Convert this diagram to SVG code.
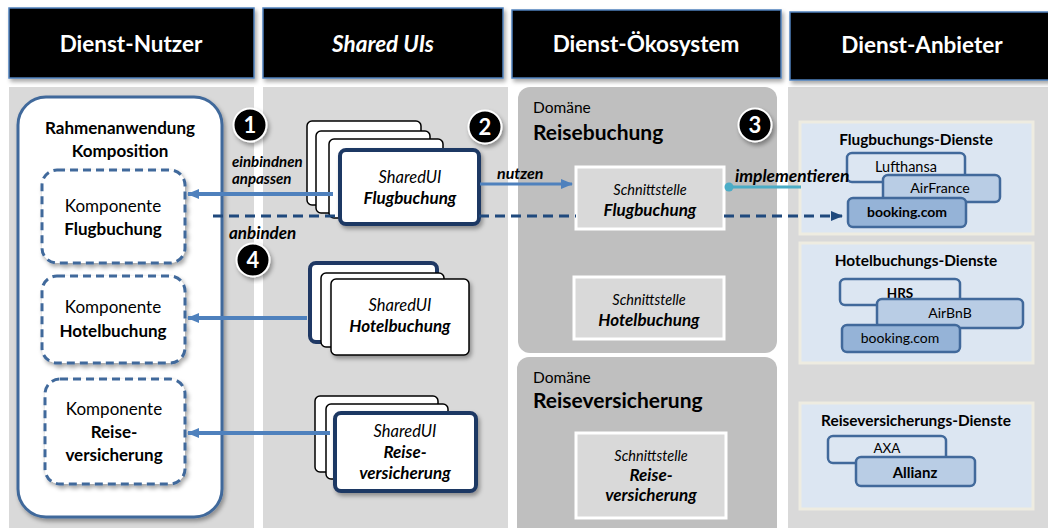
<svg xmlns="http://www.w3.org/2000/svg" width="1048" height="528" viewBox="0 0 1048 528">
<defs>
<filter id="sh" x="-20%" y="-20%" width="140%" height="140%">
<feDropShadow dx="2" dy="3" stdDeviation="2" flood-color="#000" flood-opacity="0.35"/>
</filter>
<marker id="ahBlue" viewBox="0 0 12 10" refX="11" refY="5" markerWidth="12" markerHeight="10" markerUnits="userSpaceOnUse" orient="auto">
<path d="M0,0 L12,5 L0,10 Z" fill="#4f81bd"/>
</marker>
<marker id="ahDark" viewBox="0 0 12 10" refX="11" refY="5" markerWidth="12" markerHeight="10" markerUnits="userSpaceOnUse" orient="auto">
<path d="M0,0 L12,5 L0,10 Z" fill="#1f497d"/>
</marker>
</defs>
<style>
text{font-family:Lato,"Liberation Sans",sans-serif;fill:#000}
.hdr{fill:#000;stroke:#4f81bd;stroke-width:1.5}
.hdrt{fill:#fff;font-size:22.5px;font-weight:bold;text-anchor:middle}
.col{fill:#d9d9d9}
.dom{fill:#bfbfbf}
.komp{fill:#fff;stroke:#41699b;stroke-width:3;stroke-dasharray:8 5}
.card{fill:#fff;stroke:#000;stroke-width:1.5}
.front{fill:#fff;stroke:#1f3864;stroke-width:4}
.sst{fill:#d9d9d9;stroke:#fff;stroke-width:3}
.panel{fill:#dce6f2;stroke:#eeece1;stroke-width:3}
.svc{stroke:#41699b;stroke-width:2.5}
.c{text-anchor:middle}
.b{font-weight:bold}
.i{font-style:italic}
.num{fill:#000;stroke:#fff;stroke-width:2}
.numt{fill:#fff;font-size:22px;font-weight:bold;text-anchor:middle}
.lbl{font-weight:bold;font-style:italic}
.sui{font-size:16.5px;font-style:italic}
.suib{font-size:17px;font-style:italic;font-weight:bold}
.sn{font-size:14.5px;font-style:italic}
.snb{font-size:17px;font-style:italic;font-weight:bold}
.ptitle{font-size:15.4px;font-weight:bold;text-anchor:middle}
</style>
<rect width="1048" height="528" fill="#fff"/>

<g id="backgrounds">
<rect class="col" x="9" y="87" width="245" height="441"/>
<rect class="col" x="263" y="87" width="245" height="441"/>
<rect class="col" x="788" y="87" width="260" height="441"/>
</g>

<g id="headers">
<g id="hdr-nutzer"><rect class="hdr" x="9" y="8" width="245" height="70" filter="url(#sh)"/><text class="hdrt" x="131" y="52">Dienst-Nutzer</text></g>
<g id="hdr-shared"><rect class="hdr" x="263" y="8" width="240" height="70" filter="url(#sh)"/><text class="hdrt i" x="383" y="52">Shared UIs</text></g>
<g id="hdr-oeko"><rect class="hdr" x="512" y="10" width="269" height="68" filter="url(#sh)"/><text class="hdrt" x="646" y="52">Dienst-Ökosystem</text></g>
<g id="hdr-anbieter"><rect class="hdr" x="790" y="12" width="262" height="68" filter="url(#sh)"/><text class="hdrt" x="922" y="53">Dienst-Anbieter</text></g>
</g>

<g id="rahmen">
<rect x="18" y="97" width="204" height="420" rx="28" fill="#fff" stroke="#41699b" stroke-width="3" filter="url(#sh)"/>
<text class="c b" x="120" y="134" font-size="17">Rahmenanwendung</text>
<text class="c b" x="120" y="157" font-size="17">Komposition</text>
</g>

<g id="komp-flug">
<rect class="komp" x="42" y="170" width="143" height="93" rx="15" filter="url(#sh)"/>
<text class="c" x="113" y="212" font-size="17">Komponente</text>
<text class="c b" x="113" y="235" font-size="17">Flugbuchung</text>
</g>
<g id="komp-hotel">
<rect class="komp" x="42" y="276" width="143" height="87" rx="15" filter="url(#sh)"/>
<text class="c" x="113" y="313" font-size="17">Komponente</text>
<text class="c b" x="113" y="337" font-size="17">Hotelbuchung</text>
</g>
<g id="komp-reise">
<rect class="komp" x="45" y="379" width="140" height="105" rx="15" filter="url(#sh)"/>
<text class="c" x="114" y="415" font-size="17">Komponente</text>
<text class="c b" x="114" y="438" font-size="17">Reise-</text>
<text class="c b" x="114" y="461" font-size="17">versicherung</text>
</g>

<g id="shared-flug">
<rect class="card" x="307" y="121" width="114" height="84" rx="5"/>
<rect class="card" x="316" y="131" width="114" height="82" rx="5"/>
<rect class="card" x="329" y="139" width="114" height="79" rx="5"/>
<rect class="front" x="340" y="150" width="139" height="74" rx="6" filter="url(#sh)"/>
<text class="c sui" x="410" y="183">SharedUI</text>
<text class="c suib" x="410" y="204">Flugbuchung</text>
</g>
<g id="shared-hotel">
<rect class="front" x="310" y="263" width="127" height="79" rx="6"/>
<rect class="card" x="321" y="273" width="123" height="74" rx="5"/>
<rect class="card" x="331" y="279" width="138" height="76" rx="5" filter="url(#sh)"/>
<text class="c sui" x="400" y="311">SharedUI</text>
<text class="c suib" x="400" y="332">Hotelbuchung</text>
</g>
<g id="shared-reise">
<rect class="card" x="315" y="396" width="123" height="76" rx="5"/>
<rect class="card" x="326" y="404" width="122" height="75" rx="5"/>
<rect class="front" x="335" y="413" width="141" height="78" rx="6" filter="url(#sh)"/>
<text class="c sui" x="405" y="437">SharedUI</text>
<text class="c suib" x="405" y="458">Reise-</text>
<text class="c suib" x="405" y="479">versicherung</text>
</g>

<g id="dom-reisebuchung">
<rect class="dom" x="518" y="87" width="259" height="266" rx="12"/>
<text x="533" y="113" font-size="15.5">Domäne</text>
<text class="b" x="533" y="140" font-size="21">Reisebuchung</text>
</g>
<g id="sst-flug">
<rect class="sst" x="576" y="167" width="148" height="62"/>
<text class="c sn" x="650" y="195">Schnittstelle</text>
<text class="c snb" x="650" y="216">Flugbuchung</text>
</g>
<g id="sst-hotel">
<rect class="sst" x="574" y="277" width="150" height="62"/>
<text class="c sn" x="649" y="305">Schnittstelle</text>
<text class="c snb" x="649" y="326">Hotelbuchung</text>
</g>
<g id="dom-reiseversicherung">
<rect class="dom" x="517" y="357" width="260" height="185" rx="12"/>
<text x="533" y="383" font-size="15.5">Domäne</text>
<text class="b" x="533" y="408" font-size="21">Reiseversicherung</text>
</g>
<g id="sst-reise">
<rect class="sst" x="576" y="433" width="150" height="85"/>
<text class="c sn" x="651" y="461">Schnittstelle</text>
<text class="c snb" x="651" y="481">Reise-</text>
<text class="c snb" x="651" y="501">versicherung</text>
</g>

<g id="flug-dienste">
<rect class="panel" x="800" y="122" width="233" height="112"/>
<text class="ptitle" x="916" y="145">Flugbuchungs-Dienste</text>
<rect class="svc" x="847" y="153" width="118" height="29" rx="5" fill="#dce6f2"/>
<text class="c" x="906" y="172" font-size="14.5">Lufthansa</text>
<rect class="svc" x="883" y="175" width="117" height="27" rx="5" fill="#b9cde5"/>
<text class="c" x="940" y="193" font-size="14.2">AirFrance</text>
<rect class="svc" x="848" y="198" width="118" height="29" rx="5" fill="#95b3d7"/>
<text class="c b" x="907" y="217" font-size="14">booking.com</text>
</g>
<g id="hotel-dienste">
<rect class="panel" x="800" y="243" width="233" height="120"/>
<text class="ptitle" x="916" y="266">Hotelbuchungs-Dienste</text>
<rect class="svc" x="840" y="279" width="120" height="26" rx="5" fill="#dce6f2"/>
<text class="c b" x="900" y="298" font-size="13.5">HRS</text>
<rect class="svc" x="877" y="299" width="146" height="29" rx="5" fill="#b9cde5"/>
<text class="c" x="950" y="318" font-size="14">AirBnB</text>
<rect class="svc" x="842" y="325" width="118" height="27" rx="5" fill="#95b3d7"/>
<text class="c" x="900" y="343" font-size="14">booking.com</text>
</g>
<g id="reise-dienste">
<rect class="panel" x="800" y="403" width="233" height="106"/>
<text class="ptitle" x="916" y="426">Reiseversicherungs-Dienste</text>
<rect class="svc" x="828" y="436" width="118" height="27" rx="5" fill="#dce6f2"/>
<text class="c" x="887" y="453" font-size="13.5">AXA</text>
<rect class="svc" x="856" y="457" width="119" height="29" rx="5" fill="#b9cde5"/>
<text class="c b" x="915" y="478" font-size="15">Allianz</text>
</g>

<g id="connectors">
<path d="M333,194 H188" stroke="#4f81bd" stroke-width="4" fill="none" marker-end="url(#ahBlue)"/>
<path d="M307,318 H188" stroke="#4f81bd" stroke-width="4" fill="none" marker-end="url(#ahBlue)"/>
<path d="M330,433 H188" stroke="#4f81bd" stroke-width="4" fill="none" marker-end="url(#ahBlue)"/>
<path d="M480,184 H572" stroke="#4f81bd" stroke-width="3" fill="none" marker-end="url(#ahBlue)"/>
<path d="M729,187 H801" stroke="#4bacc6" stroke-width="3" fill="none"/>
<circle cx="729" cy="187" r="4.5" fill="#4bacc6"/>
<path d="M213,216 H340 M479,216 H576 M724,216 H842" stroke="#1f497d" stroke-width="3" stroke-dasharray="10 6" fill="none" marker-end="url(#ahDark)"/>
</g>

<g id="labels">
<text class="lbl" x="232" y="167" font-size="15">einbindnen</text>
<text class="lbl" x="232" y="184" font-size="15">anpassen</text>
<text class="lbl" x="229" y="239" font-size="17">anbinden</text>
<text class="lbl" x="497" y="179" font-size="16">nutzen</text>
<text class="lbl" x="735" y="182" font-size="17.4">implementieren</text>
</g>

<g id="steps">
<g id="step1"><circle class="num" cx="250" cy="125" r="16.5" filter="url(#sh)"/><text class="numt" x="250" y="133">1</text></g>
<g id="step2"><circle class="num" cx="485" cy="127" r="16.5" filter="url(#sh)"/><text class="numt" x="485" y="135">2</text></g>
<g id="step3"><circle class="num" cx="755" cy="125" r="16.5" filter="url(#sh)"/><text class="numt" x="755" y="133">3</text></g>
<g id="step4"><circle class="num" cx="253" cy="260" r="16.5" filter="url(#sh)"/><text class="numt" x="253" y="268">4</text></g>
</g>
</svg>
